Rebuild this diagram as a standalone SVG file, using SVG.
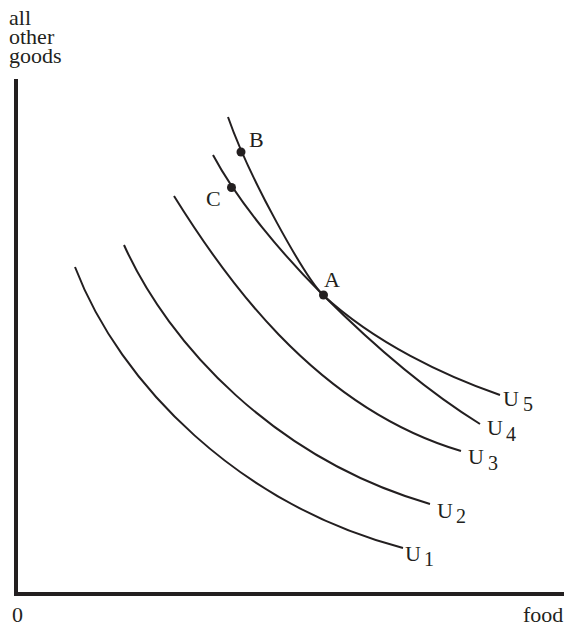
<svg xmlns="http://www.w3.org/2000/svg" width="564" height="626" viewBox="0 0 564 626">
  <style>
    .t { font-family: "Liberation Serif", "Times New Roman", serif; font-size: 22px; fill: #231f20; }
    .s { font-family: "Liberation Serif", "Times New Roman", serif; font-size: 20px; fill: #231f20; }
    .curve { fill: none; stroke: #231f20; stroke-width: 2; stroke-linecap: butt; }
    .axis { fill: none; stroke: #231f20; stroke-width: 4; stroke-linejoin: miter; }
    .dot { fill: #231f20; }
  </style>
  <rect width="564" height="626" fill="#ffffff"/>

  <g id="axes">
    <path class="axis" d="M16,79 L16,594 L564,594"/>
    <text class="t" x="9" y="25">all<tspan x="9" y="44">other</tspan><tspan x="9" y="63">goods</tspan></text>
    <text class="t" x="12" y="622">0</text>
    <text class="t" x="523" y="622">food</text>
  </g>

  <g id="connectors">
    <path id="U1-curve" class="curve" d="M75,267 C120,385 240,505 403,548"/>
    <path id="U2-curve" class="curve" d="M124,245 C169,345 275,459 430,504"/>
    <path id="U3-curve" class="curve" d="M174,196 C220,270 312,407 461,451"/>
    <path id="U4-curve" class="curve" d="M213,155 C238,202 283,255 323,295 C373,345 430,393 480,424"/>
    <path id="U5-curve" class="curve" d="M228,117 C250,180 305,277 323,295 C375,343 445,376 500,395"/>
  </g>

  <g id="U1"><text class="t" x="405" y="561">U</text><text class="s" x="424" y="566">1</text></g>
  <g id="U2"><text class="t" x="437" y="518">U</text><text class="s" x="456" y="523">2</text></g>
  <g id="U3"><text class="t" x="468" y="464">U</text><text class="s" x="488" y="470">3</text></g>
  <g id="U4"><text class="t" x="487" y="435">U</text><text class="s" x="506" y="441">4</text></g>
  <g id="U5"><text class="t" x="503" y="406">U</text><text class="s" x="523" y="411">5</text></g>

  <g id="A"><circle class="dot" cx="323.5" cy="295" r="4.5"/><text class="t" x="324" y="287">A</text></g>
  <g id="B"><circle class="dot" cx="241" cy="152" r="4.5"/><text class="t" x="249" y="147">B</text></g>
  <g id="C"><circle class="dot" cx="231.5" cy="187.5" r="4.5"/><text class="t" x="206" y="206">C</text></g>
</svg>
